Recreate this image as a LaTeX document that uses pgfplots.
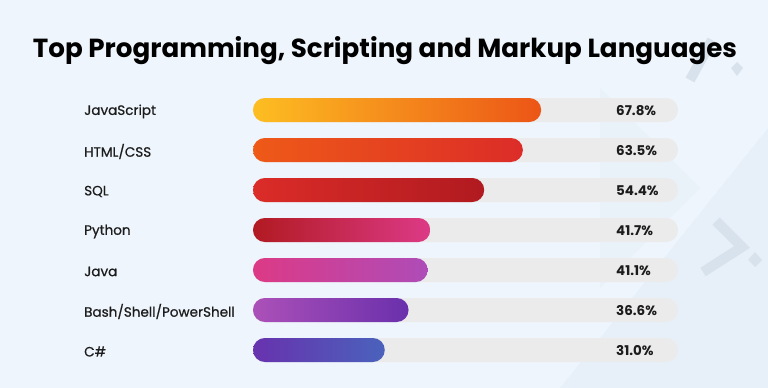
\documentclass[border=0pt]{standalone}
\usepackage{pgfplots}
\pgfplotsset{compat=1.18}
\usepackage{pgfplotstable}
\usepackage{fontspec}
\setmainfont{Poppins}
\newfontfamily\medfont{Poppins}[FakeBold=0.6]
\definecolor{bg}{HTML}{EEF5FC}
\definecolor{band}{HTML}{E5EEF7}
\definecolor{decor}{HTML}{D8E2EC}
\definecolor{track}{HTML}{EBEBEB}
\definecolor{txt}{HTML}{1C1C1C}
\definecolor{c1a}{HTML}{FDBE22}\definecolor{c1b}{HTML}{EC5516}
\definecolor{c2a}{HTML}{EE5A18}\definecolor{c2b}{HTML}{DC2C28}
\definecolor{c3a}{HTML}{DB2C28}\definecolor{c3b}{HTML}{B01A20}
\definecolor{c4a}{HTML}{B21A22}\definecolor{c4b}{HTML}{DC3A86}
\definecolor{c5a}{HTML}{DC3A86}\definecolor{c5b}{HTML}{AE4CB8}
\definecolor{c6a}{HTML}{AC50B8}\definecolor{c6b}{HTML}{6A30AC}
\definecolor{c7a}{HTML}{6832AE}\definecolor{c7b}{HTML}{4A62BC}
\pgfplotstableread{
idx track val
0 100 67.8
1 100 63.5
2 100 54.4
3 100 41.7
4 100 41.1
5 100 36.6
6 100 31.0
}\tracks
\pgfplotsset{
  pill/.style={xbar, bar width=24bp, bar shift=0pt, draw=none, rounded corners=11.9bp},
}
\begin{document}
\begin{tikzpicture}
\path[use as bounding box] (0,0) rectangle (768bp,388bp);
\fill[bg] (0,0) rectangle (768bp,388bp);
% faint background shapes
\fill[band,opacity=0.7] (560bp,0) -- (768bp,260bp) -- (768bp,0) -- cycle;
\fill[band,opacity=0.5] (600bp,300bp) -- (700bp,200bp) -- (600bp,100bp) -- cycle;
\draw[decor,line width=10bp] (690bp,308bp) -- (712bp,348bp);
\fill[decor] (737bp,326bp) -- (743bp,320bp) -- (737bp,312bp) -- (731bp,320bp) -- cycle;
\draw[decor,line width=10bp,line join=miter] (716bp,167bp) -- (742bp,141bp) -- (703bp,116bp);
\fill[decor] (755bp,136bp) -- (762bp,128bp) -- (755bp,121bp) -- (748bp,128bp) -- cycle;
% title
\node[anchor=base, inner sep=0pt, text=black] at (385bp,330bp)
  {\resizebox{704bp}{!}{\bfseries Top Programming, Scripting and Markup Languages}};
\begin{axis}[
  at={(253bp,18bp)}, anchor=south west,
  scale only axis, width=425bp, height=280bp,
  xmin=0, xmax=100, ymin=-0.5, ymax=6.5, y dir=reverse,
  axis line style={draw=none}, tick style={draw=none},
  major tick length=0pt,
  xtick=\empty,
  ytick={0,1,2,3,4,5,6},
  yticklabels={JavaScript,HTML/CSS,SQL,Python,Java,Bash/Shell/PowerShell,C\#},
  yticklabel style={anchor=west, xshift=-169bp, yshift=-1.5bp, inner sep=0pt,
    font=\medfont\fontsize{13.6}{15}\selectfont, text=txt},
  clip=false,
  /pgf/number format/assume math mode=true,
]
\addplot[pill, fill=track,
  point meta=explicit,
  nodes near coords={\pgfmathprintnumber[fixed,fixed zerofill,precision=1]{\pgfplotspointmeta}\%},
  every node near coord/.style={anchor=west, xshift=-62bp, yshift=-0.5bp, inner sep=0pt,
    font=\bfseries\fontsize{13.5}{15}\selectfont, text=txt},
] table[x=track, y=idx, meta=val] {\tracks};
\addplot[pill, left color=c1a, right color=c1b] coordinates {(67.8,0)};
\addplot[pill, left color=c2a, right color=c2b] coordinates {(63.5,1)};
\addplot[pill, left color=c3a, right color=c3b] coordinates {(54.4,2)};
\addplot[pill, left color=c4a, right color=c4b] coordinates {(41.7,3)};
\addplot[pill, left color=c5a, right color=c5b] coordinates {(41.1,4)};
\addplot[pill, left color=c6a, right color=c6b] coordinates {(36.6,5)};
\addplot[pill, left color=c7a, right color=c7b] coordinates {(31.0,6)};
\end{axis}
\end{tikzpicture}
\end{document}
